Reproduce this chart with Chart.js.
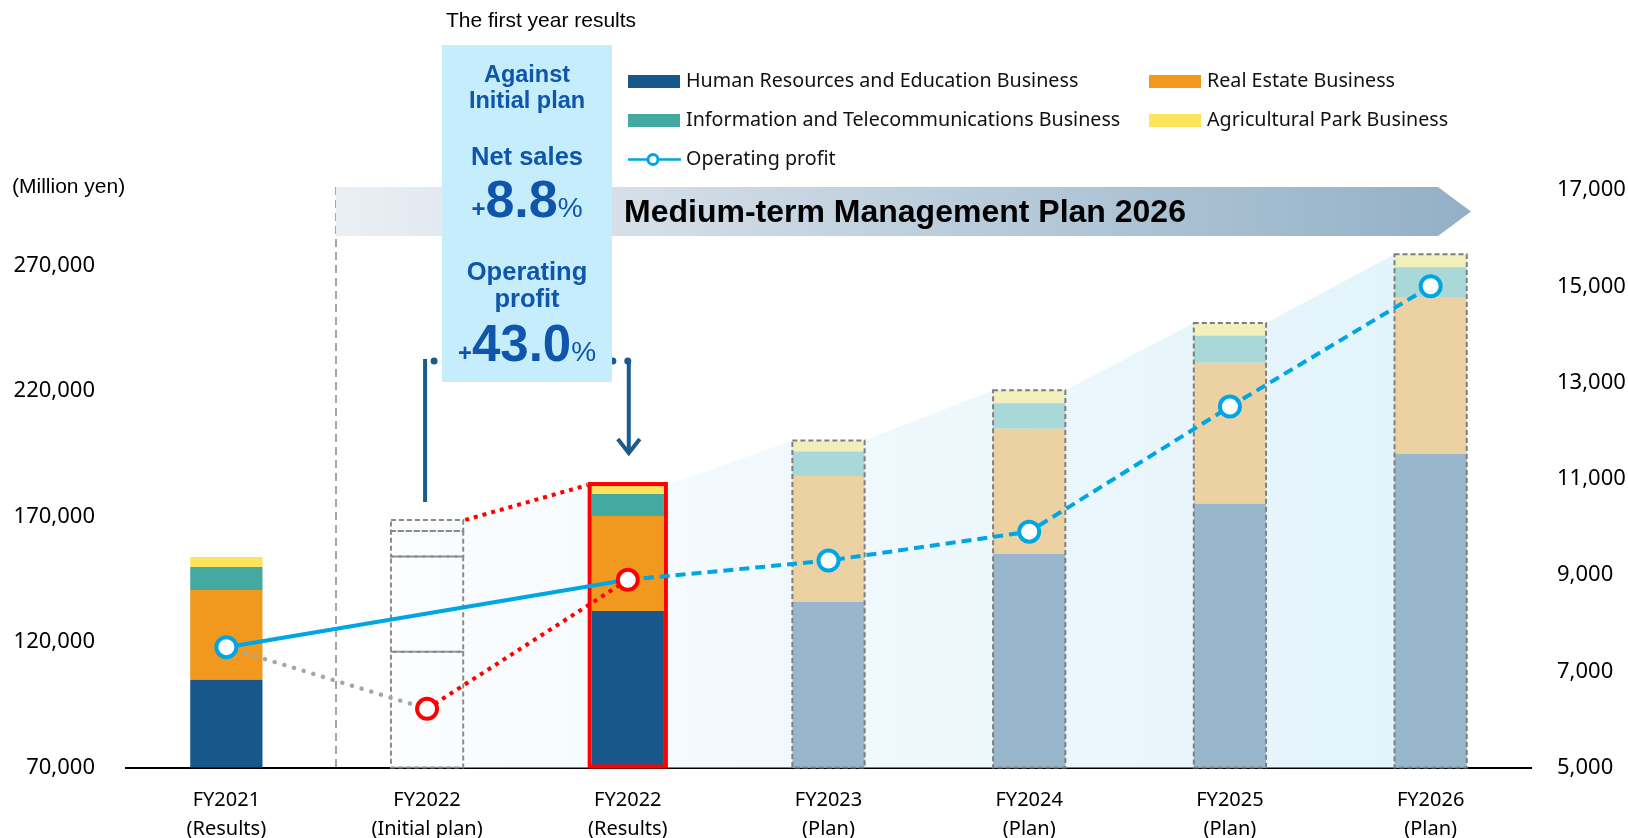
<!DOCTYPE html>
<html>
<head>
<meta charset="utf-8">
<title>Medium-term Management Plan 2026</title>
<script src="https://cdn.jsdelivr.net/npm/chart.js@4.4.1/dist/chart.umd.min.js"></script>
<style>
  html, body { margin: 0; padding: 0; background: #fff; }
  #wrap { position: relative; width: 1628px; height: 838px; }
</style>
</head>
<body>
<div id="wrap"><canvas id="chart" width="1628" height="838"></canvas></div>
<script>
//////////////// DATA
const categories = [
  ['FY2021', '(Results)'],
  ['FY2022', '(Initial plan)'],
  ['FY2022', '(Results)'],
  ['FY2023', '(Plan)'],
  ['FY2024', '(Plan)'],
  ['FY2025', '(Plan)'],
  ['FY2026', '(Plan)'],
];

const segmentNames = [
  'Human Resources and Education Business',
  'Real Estate Business',
  'Information and Telecommunications Business',
  'Agricultural Park Business',
];

// net sales by segment (million yen)
const humanResources = [104900, 116100, 132300, 135900, 155100, 175000, 194900];
const realEstate     = [35800, 37900, 37900, 50200, 49800, 56200, 62200];
const infoTelecom    = [9200, 10200, 8700, 9800, 10200, 10800, 12100];
const agriPark       = [3900, 4400, 3200, 4300, 5100, 5000, 5200];

// operating profit (million yen)
const profitResults = [7500, null, 8900, null, null, null, null];
const profitInitial = [null, 6220, null, null, null, null, null];
const profitPlan    = [null, null, 8900, 9300, 9900, 12500, 15000];

const salesTicks  = [70000, 120000, 170000, 220000, 270000];
const profitTicks = [5000, 7000, 9000, 11000, 13000, 15000, 17000];

//////////////// COLORS
const fullColors = ['#17578a', '#f1981f', '#44a9a1', '#fde35c'];
const paleColors = ['#98b6cc', '#ecd1a2', '#a8d8d8', '#f1efbb'];
const profitBlue = '#00a6e3';
const red = '#ff0000';
const TEXT_BLUE = '#0f55ab';

function barColors(k) {
  return categories.map((c, i) => {
    if (i === 1) return 'rgba(255,255,255,0)';   // initial plan: outline only
    if (i >= 3) return paleColors[k];            // plan years
    return fullColors[k];
  });
}

const segmentData = [humanResources, realEstate, infoTelecom, agriPark];

const barSets = segmentData.map((data, k) => ({
  type: 'bar',
  label: segmentNames[k],
  data: data,
  backgroundColor: barColors(k),
  legendColor: fullColors[k],
  borderWidth: 0,
  categoryPercentage: 1,
  barPercentage: 0.36,
  yAxisID: 'y',
  order: 10,
}));

// lines built from the profit arrays
const grayDotted = categories.map((c, i) => i === 0 ? profitResults[0] : (i === 1 ? profitInitial[1] : null));
const redDotted  = categories.map((c, i) => i === 1 ? profitInitial[1] : (i === 2 ? profitResults[2] : null));

const lineSets = [
  {
    type: 'line', label: 'plan', data: profitPlan, yAxisID: 'y1', order: 5,
    borderColor: profitBlue, borderWidth: 4, borderDash: [10, 6],
    pointRadius: profitPlan.map((v, i) => i >= 3 ? 10 : 0),
    pointBorderColor: profitBlue, pointBackgroundColor: '#fff', pointBorderWidth: 4,
  },
  {
    type: 'line', label: 'initial-gray', data: grayDotted, yAxisID: 'y1', order: 4,
    borderColor: '#a6a6a6', borderWidth: 4.5, borderDash: [0.1, 10], borderCapStyle: 'round',
    pointRadius: 0,
  },
  {
    type: 'line', label: 'initial-red', data: redDotted, yAxisID: 'y1', order: 3,
    borderColor: red, borderWidth: 4, borderDash: [4, 5],
    pointRadius: [0, 10, 0, 0, 0, 0, 0],
    pointBorderColor: red, pointBackgroundColor: '#fff', pointBorderWidth: 4,
  },
  {
    type: 'line', label: 'Operating profit', data: profitResults, yAxisID: 'y1', order: 1,
    spanGaps: true,
    borderColor: profitBlue, borderWidth: 4,
    pointRadius: 10,
    pointBorderColor: [profitBlue, profitBlue, red, profitBlue, profitBlue, profitBlue, profitBlue],
    pointBackgroundColor: '#fff', pointBorderWidth: 4,
  },
];

//////////////// HELPERS
function barBox(chart, i) {
  const bottomBar = chart.getDatasetMeta(0).data[i];
  const topBar = chart.getDatasetMeta(3).data[i];
  const w = topBar.width;
  return {
    x: topBar.x,
    left: topBar.x - w / 2,
    right: topBar.x + w / 2,
    top: topBar.y,
    bottom: Math.min(bottomBar.base, chart.chartArea.bottom),
  };
}

function centerParts(ctx, parts, cx, baseline) {
  let total = 0;
  parts.forEach(p => { ctx.font = p.font; p.w = ctx.measureText(p.text).width; total += p.w; });
  let x = cx - total / 2;
  ctx.textAlign = 'left';
  parts.forEach(p => { ctx.font = p.font; ctx.fillText(p.text, x, baseline + (p.dy || 0)); x += p.w; });
}

//////////////// PLUGIN
const decorations = {
  id: 'decorations',

  beforeDatasetsDraw(chart) {
    const ctx = chart.ctx;
    const boxes = categories.map((c, i) => barBox(chart, i));
    const first = boxes[1];
    const last = boxes[boxes.length - 1];

    ctx.save();
    // light band rising behind the plan bars
    const grad = ctx.createLinearGradient(first.left, 0, last.right, 0);
    grad.addColorStop(0, '#fbfdfe');
    grad.addColorStop(1, '#e1f3fb');
    ctx.beginPath();
    ctx.moveTo(first.left, first.bottom);
    for (let i = 1; i < boxes.length; i++) {
      ctx.lineTo(boxes[i].left, boxes[i].top);
      ctx.lineTo(boxes[i].right, boxes[i].top);
    }
    ctx.lineTo(last.right, last.bottom);
    ctx.closePath();
    ctx.fillStyle = grad;
    ctx.fill();

    // dashed separator between results and plan period
    ctx.strokeStyle = '#a6a6a6';
    ctx.lineWidth = 2;
    ctx.setLineDash([8, 5]);
    ctx.beginPath();
    ctx.moveTo(336, 187);
    ctx.lineTo(336, chart.chartArea.bottom);
    ctx.stroke();
    ctx.restore();
  },

  afterDatasetDraw(chart, args) {
    if (args.index !== 0) return; // last bar dataset drawn
    const ctx = chart.ctx;
    ctx.save();

    // initial plan: dashed outline of every segment
    ctx.strokeStyle = '#8a8a8a';
    ctx.lineWidth = 2;
    ctx.setLineDash([5, 3]);
    for (let k = 0; k < 4; k++) {
      const el = chart.getDatasetMeta(k).data[1];
      const base = Math.min(el.base, chart.chartArea.bottom);
      ctx.strokeRect(el.x - el.width / 2, el.y, el.width, base - el.y);
    }

    // plan years: dashed outline around stack
    ctx.strokeStyle = '#7f7f7f';
    for (let i = 3; i < categories.length; i++) {
      const b = barBox(chart, i);
      ctx.strokeRect(b.left, b.top, b.right - b.left, b.bottom - b.top);
    }

    // results: red frame
    const r = barBox(chart, 2);
    ctx.setLineDash([]);
    ctx.strokeStyle = red;
    ctx.lineWidth = 4;
    ctx.strokeRect(r.left - 2, r.top - 2, r.right - r.left + 4, r.bottom - r.top + 1);

    // red dotted link from initial plan top to results top
    const p = barBox(chart, 1);
    ctx.setLineDash([4, 5]);
    ctx.lineWidth = 4;
    ctx.beginPath();
    ctx.moveTo(p.right + 2, p.top);
    ctx.lineTo(r.left - 4, r.top - 1);
    ctx.stroke();
    ctx.restore();
  },

  afterDraw(chart) {
    const ctx = chart.ctx;
    const plan = barBox(chart, 1);
    const res = barBox(chart, 2);
    ctx.save();

    // banner arrow
    const bTop = 187, bBot = 236, bLeft = 336, bRight = 1438, bTip = 1471;
    const bg = ctx.createLinearGradient(bLeft, 0, bTip, 0);
    bg.addColorStop(0, '#eaeff4');
    bg.addColorStop(1, '#93b0c6');
    ctx.fillStyle = bg;
    ctx.beginPath();
    ctx.moveTo(bLeft, bTop);
    ctx.lineTo(bRight, bTop);
    ctx.lineTo(bTip, (bTop + bBot) / 2);
    ctx.lineTo(bRight, bBot);
    ctx.lineTo(bLeft, bBot);
    ctx.closePath();
    ctx.fill();
    ctx.fillStyle = '#000';
    ctx.font = 'bold 32px "Liberation Sans", Arial, sans-serif';
    ctx.textAlign = 'left';
    ctx.textBaseline = 'middle';
    ctx.fillText('Medium-term Management Plan 2026', 624, 213);

    // dotted connector behind the box
    const connY = 361;
    ctx.strokeStyle = '#1b5a8c';
    ctx.lineWidth = 7;
    ctx.lineCap = 'round';
    ctx.setLineDash([0, 14.9]);
    ctx.beginPath();
    ctx.moveTo(plan.x + 7, connY);
    ctx.lineTo(res.x + 1, connY);
    ctx.stroke();
    ctx.setLineDash([]);
    ctx.lineCap = 'butt';

    // result box
    const boxL = 442, boxR = 612, boxT = 45, boxB = 382;
    const cx = (boxL + boxR) / 2;
    ctx.fillStyle = '#c5edfc';
    ctx.fillRect(boxL, boxT, boxR - boxL, boxB - boxT);

    ctx.fillStyle = TEXT_BLUE;
    ctx.textBaseline = 'alphabetic';
    ctx.textAlign = 'center';
    ctx.font = 'bold 23.5px "Liberation Sans", Arial, sans-serif';
    ctx.fillText('Against', cx, 82);
    ctx.fillText('Initial plan', cx, 108);
    ctx.font = 'bold 25.5px "Liberation Sans", Arial, sans-serif';
    ctx.fillText('Net sales', cx, 165);
    centerParts(ctx, [
      { text: '+', font: 'bold 24px "Liberation Sans", Arial, sans-serif' },
      { text: '8.8', font: 'bold 52px "Liberation Sans", Arial, sans-serif' },
      { text: '%', font: '28px "Liberation Sans", Arial, sans-serif' },
    ], cx, 217);
    ctx.textAlign = 'center';
    ctx.font = 'bold 25.5px "Liberation Sans", Arial, sans-serif';
    ctx.fillText('Operating', cx, 280);
    ctx.fillText('profit', cx, 307);
    centerParts(ctx, [
      { text: '+', font: 'bold 24px "Liberation Sans", Arial, sans-serif' },
      { text: '43.0', font: 'bold 51px "Liberation Sans", Arial, sans-serif' },
      { text: '%', font: '28px "Liberation Sans", Arial, sans-serif' },
    ], cx, 361);

    // connector verticals and arrow
    ctx.strokeStyle = '#1b5a8c';
    ctx.lineWidth = 4;
    ctx.beginPath();
    ctx.moveTo(plan.x - 2, connY - 2);
    ctx.lineTo(plan.x - 2, plan.top - 18);
    ctx.moveTo(res.x + 1, connY);
    ctx.lineTo(res.x + 1, res.top - 33);
    ctx.stroke();
    ctx.beginPath();
    ctx.moveTo(res.x - 10, res.top - 47);
    ctx.lineTo(res.x + 1, res.top - 33);
    ctx.lineTo(res.x + 12, res.top - 47);
    ctx.stroke();

    // headings
    ctx.fillStyle = '#000';
    ctx.textAlign = 'center';
    ctx.font = '21px "Liberation Sans", Arial, sans-serif';
    ctx.fillText('The first year results', 541, 27);
    ctx.textAlign = 'left';
    ctx.textBaseline = 'middle';
    ctx.fillText('(Million yen)', 12, 187);

    // legend
    const legX = [628, 1149];
    const legY = [81.5, 120.5, 159.5];
    ctx.font = '19.7px "Noto Sans", sans-serif';
    chart.data.datasets.forEach((ds, k) => {
      if (ds.type !== 'bar') return;
      const x = legX[k % 2], y = legY[Math.floor(k / 2)];
      ctx.fillStyle = ds.legendColor;
      ctx.fillRect(x, y - 6.5, 52, 13);
      ctx.fillStyle = '#111';
      ctx.fillText(ds.label, x + 58, y);
    });
    const opY = legY[2];
    ctx.strokeStyle = profitBlue;
    ctx.lineWidth = 2.5;
    ctx.beginPath();
    ctx.moveTo(legX[0], opY);
    ctx.lineTo(legX[0] + 53, opY);
    ctx.stroke();
    ctx.beginPath();
    ctx.arc(legX[0] + 25, opY, 5, 0, Math.PI * 2);
    ctx.fillStyle = '#fff';
    ctx.fill();
    ctx.lineWidth = 3;
    ctx.stroke();
    ctx.fillStyle = '#111';
    ctx.fillText('Operating profit', legX[0] + 58, opY);

    ctx.restore();
  }
};

//////////////// CHART
const tickFont = { family: '"Noto Sans", sans-serif', size: 22 };

new Chart(document.getElementById('chart').getContext('2d'), {
  type: 'bar',
  data: {
    labels: categories,
    datasets: [...barSets, ...lineSets],
  },
  options: {
    responsive: false,
    animation: false,
    devicePixelRatio: 1,
    layout: { padding: { top: 190, left: 0, right: 0, bottom: 0 } },
    plugins: {
      legend: { display: false },
      tooltip: { enabled: false },
    },
    scales: {
      x: {
        stacked: true,
        grid: { display: false, drawTicks: false },
        border: { display: true, color: '#000', width: 2 },
        ticks: {
          color: '#000',
          font: { family: '"Noto Sans", sans-serif', size: 20, lineHeight: 1.45 },
          padding: 18,
          maxRotation: 0,
          autoSkip: false,
        },
        afterFit(scale) { scale.height = 70.5; },
      },
      y: {
        position: 'left',
        stacked: true,
        min: 70000,
        max: 300000,
        grid: { display: false, drawTicks: false },
        border: { display: false },
        ticks: {
          color: '#000',
          font: tickFont,
          padding: 31,
          callback: v => v.toLocaleString('en-US'),
        },
        afterBuildTicks(scale) { scale.ticks = salesTicks.map(v => ({ value: v })); },
        afterFit(scale) { scale.width = 126; },
      },
      y1: {
        position: 'right',
        stacked: false,
        min: 5000,
        max: 17000,
        grid: { display: false, drawTicks: false },
        border: { display: false },
        ticks: {
          color: '#000',
          font: tickFont,
          padding: 26,
          callback: v => v.toLocaleString('en-US'),
        },
        afterBuildTicks(scale) { scale.ticks = profitTicks.map(v => ({ value: v })); },
        afterFit(scale) { scale.width = 97; },
      },
    },
  },
  plugins: [decorations],
});
</script>
</body>
</html>
